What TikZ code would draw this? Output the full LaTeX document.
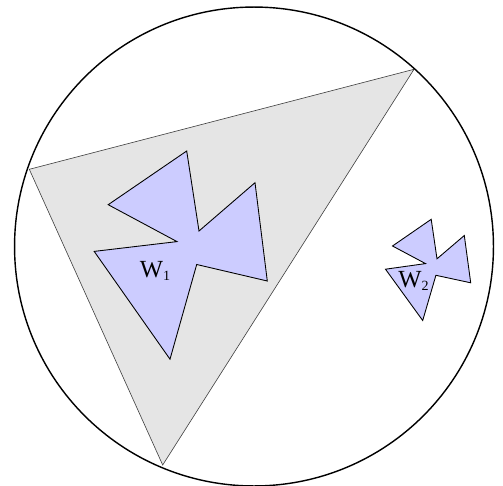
\documentclass[tikz,border=0pt]{standalone}
\usepackage{fontspec}
\setmainfont{Liberation Serif}
\usepackage{xcolor}
\definecolor{regionGray}{HTML}{E5E5E5}
\definecolor{windowBlue}{HTML}{CCCCFF}
\definecolor{edgeGray}{HTML}{404040}
\usepackage{tikz}
\tikzset{
    % Outer disc
    disc/.style={
        draw=black,
        line width=0.8pt,
    },
    % Shaded triangle inside the disc
    region/.style={
        draw=edgeGray,
        fill=regionGray,
        line width=0.35pt,
    },
    % Bow-tie shaped sets
    window/.style={
        draw=black,
        fill=windowBlue,
        line width=0.5pt,
        line join=miter,
    },
    % Set labels
    wlabel/.style={
        font=\fontsize{14}{16}\selectfont,
        inner sep=0pt,
    },
}

\begin{document}
\begin{tikzpicture}[x=0.02cm, y=-0.02cm]
    \useasboundingbox (0,0) rectangle (503,486);

    \coordinate (tl) at (29.3,169.3);
    \coordinate (tr) at (414,69.3);
    \coordinate (bt) at (162.7,465);

    \draw [region] (tl) -- (tr) -- (bt) -- cycle;
    \draw [disc] (254,246.5) circle [radius=4.79cm];

    % first set
    \draw [window] (186.7,151) -- (199,231) -- (255,182.7) -- (267.3,281)
        -- (196.7,264.5) -- (170,359.2) -- (94.2,251.4) -- (177,241.6)
        -- (108.2,204.7) -- cycle;
    % second set
    \draw [window] (431.2,219.3) -- (437,258.8) -- (464.3,235.5) -- (470.7,282.8)
        -- (435.9,275.3) -- (422.7,320.5) -- (385.5,269.2) -- (425.5,263.6)
        -- (392.5,246) -- cycle;

    \node (w1) [wlabel] at (155,271) {W{\fontsize{8}{9}\selectfont\raisebox{-0.35ex}{1}}};
    \node (w2) [wlabel] at (413.5,281) {W{\fontsize{8}{9}\selectfont\raisebox{-0.35ex}{2}}};
\end{tikzpicture}
\end{document}
